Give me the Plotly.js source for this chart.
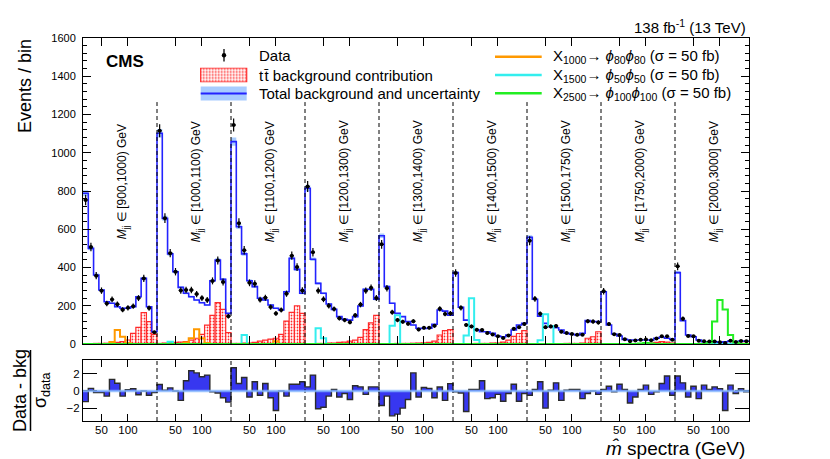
<!DOCTYPE html>
<html><head><meta charset="utf-8">
<script src="https://cdn.plot.ly/plotly-3.0.1.min.js"></script>
<style>html,body{margin:0;padding:0;background:#fff}#chart{width:830px;height:459px}</style>
</head><body><div id="chart"></div>
<script>
// ---------------- data ----------------
const mjjBins = ['[900,1000)', '[1000,1100)', '[1100,1200)', '[1200,1300)', '[1300,1400)',
                 '[1400,1500)', '[1500,1750)', '[1750,2000)', '[2000,3000]'];
const mLow = 15;            // GeV, low edge of each m-hat spectrum
const binWidth = 10;        // GeV
const mTickValues = [50, 100];
const mTickLabels = ['50', '100'];

const totalBkg = [
  [788, 500, 361, 282, 221, 213, 195, 187, 187, 195, 247, 343, 195, 64],
  [1102, 657, 471, 378, 296, 265, 247, 230, 216, 204, 331, 439, 338, 160],
  [1058, 613, 471, 331, 300, 239, 230, 204, 187, 178, 273, 448, 390, 265],
  [814, 443, 317, 265, 209, 181, 143, 129, 125, 143, 199, 286, 286, 234],
  [566, 300, 213, 160, 143, 117, 99, 82, 81, 82, 103, 178, 172, 150],
  [373, 192, 125, 91, 73, 64, 64, 56, 42, 38, 47, 73, 99, 108],
  [558, 234, 146, 108, 91, 85, 73, 56, 51, 47, 56, 122, 117, 117],
  [273, 99, 52, 42, 24, 21, 21, 21, 21, 21, 30, 35, 30, 24],
  [373, 122, 47, 38, 21, 12, 12, 12, 8, 12, 15, 12, 15, 15]
];
const bkgRelUnc = 0.02;
const dataCounts = [
  [753, 507, 357, 279, 212, 233, 208, 179, 189, 198, 240, 343, 188, 62],
  [1115, 658, 475, 378, 280, 283, 282, 261, 240, 230, 330, 436, 324, 145],
  [1145, 632, 490, 320, 315, 232, 242, 193, 160, 178, 263, 462, 402, 280],
  [823, 480, 279, 234, 200, 183, 135, 125, 114, 150, 206, 279, 294, 241],
  [521, 291, 166, 125, 116, 106, 119, 76, 85, 85, 95, 184, 157, 160],
  [371, 189, 100, 92, 74, 73, 57, 50, 40, 31, 45, 80, 88, 105],
  [540, 236, 158, 88, 92, 94, 64, 57, 52, 48, 49, 119, 117, 113],
  [276, 104, 51, 47, 25, 15, 18, 22, 24, 19, 29, 40, 40, 22],
  [406, 132, 42, 41, 17, 14, 13, 13, 9, 5, 17, 11, 16, 15]
];
const ttbarBkg = [
  [2, 2, 3, 3, 4, 5, 8, 12, 21, 56, 87, 164, 117, 50],
  [3, 5, 8, 8, 10, 12, 20, 30, 50, 99, 150, 216, 181, 60],
  [3, 3, 5, 5, 8, 15, 20, 25, 30, 50, 120, 165, 200, 160],
  [2, 2, 3, 3, 5, 5, 8, 10, 15, 20, 35, 75, 110, 150],
  [2, 2, 2, 3, 3, 3, 4, 5, 6, 8, 15, 47, 70, 75],
  [2, 2, 2, 2, 3, 3, 3, 5, 5, 10, 20, 40, 55, 70],
  [1, 1, 1, 1, 2, 2, 2, 3, 3, 3, 5, 30, 38, 64],
  [0, 0, 0, 0, 1, 1, 1, 2, 3, 5, 8, 12, 10, 5],
  [0, 0, 0, 0, 0, 0, 1, 1, 1, 1, 2, 3, 3, 3]
];
const sigX1000 = [
  [0, 0, 0, 0, 0, 10, 73, 38, 5, 0, 0, 0, 0, 0],
  [0, 0, 0, 0, 0, 8, 30, 77, 30, 5, 0, 0, 0, 0],
  [0, 0, 0, 0, 0, 0, 0, 0, 15, 0, 0, 0, 0, 0],
  [0, 0, 0, 0, 0, 0, 0, 0, 0, 0, 0, 0, 0, 0],
  [0, 0, 0, 0, 0, 0, 0, 0, 0, 0, 0, 0, 0, 0],
  [0, 0, 0, 0, 0, 0, 0, 0, 0, 0, 0, 0, 0, 0],
  [0, 0, 0, 0, 0, 0, 0, 0, 0, 0, 0, 0, 0, 0],
  [0, 0, 0, 0, 0, 0, 0, 0, 0, 0, 0, 0, 0, 0],
  [0, 0, 0, 0, 0, 0, 0, 0, 0, 0, 0, 0, 0, 0]
];
const sigX1500 = [
  [0, 0, 0, 0, 0, 0, 0, 0, 0, 0, 0, 0, 0, 0],
  [0, 0, 12, 0, 0, 0, 0, 0, 0, 0, 0, 0, 0, 0],
  [0, 0, 47, 0, 0, 0, 0, 0, 0, 0, 0, 0, 0, 0],
  [0, 0, 82, 30, 0, 0, 0, 0, 0, 0, 0, 0, 0, 0],
  [0, 0, 95, 150, 0, 0, 0, 0, 0, 0, 0, 0, 0, 0],
  [0, 0, 44, 239, 21, 0, 0, 0, 0, 0, 0, 0, 0, 0],
  [0, 0, 20, 155, 94, 0, 0, 0, 0, 0, 0, 0, 0, 0],
  [0, 0, 0, 0, 0, 0, 0, 0, 0, 0, 0, 0, 0, 0],
  [0, 0, 0, 0, 0, 0, 0, 0, 0, 0, 0, 0, 0, 0]
];
const sigX2500 = [
  [0, 0, 0, 0, 0, 0, 0, 0, 0, 0, 0, 0, 0, 0],
  [0, 0, 0, 0, 0, 0, 0, 0, 0, 0, 0, 0, 0, 0],
  [0, 0, 0, 0, 0, 0, 0, 0, 0, 0, 0, 0, 0, 0],
  [0, 0, 0, 0, 0, 0, 0, 0, 0, 0, 0, 0, 0, 0],
  [0, 0, 0, 0, 0, 0, 0, 0, 0, 0, 0, 0, 0, 0],
  [0, 0, 0, 0, 0, 0, 0, 0, 0, 0, 0, 0, 0, 0],
  [0, 0, 0, 0, 0, 0, 0, 0, 0, 0, 0, 0, 0, 0],
  [0, 0, 0, 0, 0, 0, 0, 3, 5, 3, 0, 0, 0, 0],
  [0, 0, 0, 0, 0, 0, 8, 117, 230, 181, 47, 8, 0, 0]
];
const pulls = [
  [-1.25, 0.3, -0.2, -0.2, -0.6, 1.35, 0.9, -0.6, 0.15, 0.25, -0.45, 0, -0.5, -0.2],
  [0.75, 0.08, 0.35, 0, -1.1, 1.18, 2.35, 2.1, 1.65, 1.84, -0.1, -0.24, -0.8, -1.3],
  [2.7, 0.86, 1.57, -0.7, 1.06, -0.5, 0.86, -0.8, -2.27, 0, -0.6, 0.78, 0.78, 1.06],
  [0.47, 1.84, -2.08, -1.9, -0.6, 0.16, -0.7, -0.3, -1.0, 0.6, 0.47, -0.4, 0.47, 0.47],
  [-1.7, -0.6, -2.9, -2.7, -2.0, -1.0, 2.1, -0.7, 0.4, 0.3, -0.8, 0.45, -1.1, 0.85],
  [-0.1, -0.24, -2.4, 0.16, 0.16, 1.18, -0.9, -0.8, -0.4, -1.2, -0.3, 0.78, -1.2, -0.3],
  [-0.5, 0.16, 1.06, -2.0, 0.08, 0.94, -1.1, 0.08, 0.16, 0.16, -0.9, -0.3, 0, -0.4],
  [0.16, 0.55, -0.1, 0.78, 0.16, -1.4, -0.7, 0.16, 0.67, -0.4, -0.1, 0.86, 1.73, -0.5],
  [1.73, 0.94, -0.7, 0.55, -0.9, 0.67, 0.16, 0.47, 0.27, -2.27, 0.67, -0.3, 0.27, -0.1]
];
const legendSwatch = [1];

// ---------------- derived geometry (unrolled m-hat axis) ----------------
const nSeg = mjjBins.length;
const nPerSeg = totalBkg[0].length;
const segSpan = nPerSeg * binWidth;
const nBins = nSeg * nPerSeg;
const edges = Array.from({length: nBins + 1}, (_, i) => i * binWidth);
const centers = Array.from({length: nBins}, (_, i) => i * binWidth + binWidth / 2);
const stepY = v => v.concat([v[v.length - 1]]);
const bkg = totalBkg.flat(), dat = dataCounts.flat(), tt = ttbarBkg.flat();
const s1 = sigX1000.flat(), s2 = sigX1500.flat(), s3 = sigX2500.flat(), pl = pulls.flat();
const tickVals = [], tickText = [];
for (let s = 0; s < nSeg; s++) mTickValues.forEach((m, k) => { tickVals.push(s * segSpan + m - mLow); tickText.push(mTickLabels[k]); });

const FONT = 'Liberation Sans, Arial, Helvetica, sans-serif';
const L = 83, R = 81, T = 38, B = 38, W = 830, H = 459;
const px = x => (x - L) / (W - L - R);
const py = y => (H - B - y) / (H - T - B);
const mainDom = [py(344), 1];
const ratioDom = [0, py(360)];

const BLUE = '#2323ff', BAND = 'rgba(110,170,255,0.6)';
const ORANGE = '#ff9900', CYAN = '#33eeee', GREEN = '#22ee22';
const TTPAT = {shape: '.', fgcolor: '#ff2a2a', bgcolor: 'white', size: 3, solidity: 0.28};

const traces = [
  {type: 'bar', x: centers, y: tt, width: binWidth, xaxis: 'x', yaxis: 'y', hoverinfo: 'skip',
   marker: {color: 'white', pattern: TTPAT, line: {color: '#ff2a2a', width: 1.2}}},
  {type: 'scatter', mode: 'lines', x: edges, y: stepY(bkg.map(v => v * (1 - bkgRelUnc))),
   line: {width: 0, shape: 'hv'}, hoverinfo: 'skip'},
  {type: 'scatter', mode: 'lines', x: edges, y: stepY(bkg.map(v => v * (1 + bkgRelUnc))),
   line: {width: 0, shape: 'hv'}, fill: 'tonexty', fillcolor: BAND, hoverinfo: 'skip'},
  {type: 'scatter', mode: 'lines', x: edges, y: stepY(bkg), line: {color: BLUE, width: 1.6, shape: 'hv'}},
  {type: 'scatter', mode: 'lines', x: edges, y: stepY(s1), line: {color: ORANGE, width: 2, shape: 'hv'}},
  {type: 'scatter', mode: 'lines', x: edges, y: stepY(s2), line: {color: CYAN, width: 2, shape: 'hv'}},
  {type: 'scatter', mode: 'lines', x: edges, y: stepY(s3), line: {color: GREEN, width: 2, shape: 'hv'}},
  {type: 'scatter', mode: 'markers', x: centers, y: dat, marker: {color: 'black', size: 4},
   error_y: {type: 'data', array: dat.map(v => Math.sqrt(v)), color: 'black', thickness: 1.2, width: 0},
   error_x: {type: 'constant', value: 4, color: 'black', thickness: 1.2, width: 0}},
  {type: 'scatter', mode: 'lines', x: edges, y: stepY(pl), xaxis: 'x2', yaxis: 'y2',
   fill: 'tozeroy', fillcolor: 'rgb(55,55,240)', line: {color: '#2b2b2b', width: 1.4, shape: 'hv'}},
  {type: 'bar', x: [0], y: legendSwatch, width: 1, xaxis: 'x3', yaxis: 'y3', hoverinfo: 'skip',
   marker: {color: 'white', pattern: TTPAT, line: {color: '#ff2a2a', width: 1.2}}}
];

const shapes = [];
for (let s = 1; s < nSeg; s++) {
  shapes.push({type: 'line', xref: 'x', yref: 'y', x0: s * segSpan, x1: s * segSpan, y0: 0, y1: 1265,
               line: {color: 'black', width: 1, dash: '4px,3px'}});
  shapes.push({type: 'line', xref: 'x2', yref: 'y2 domain', x0: s * segSpan, x1: s * segSpan, y0: 0, y1: 1,
               line: {color: 'black', width: 1, dash: '4px,3px'}});
}
shapes.push({type: 'line', xref: 'x2 domain', yref: 'y2', x0: 0, x1: 1, y0: 0, y1: 0, layer: 'above',
             line: {color: 'rgba(130,180,255,0.8)', width: 2.5}});
// fraction bar of the ratio title
shapes.push({type: 'line', xref: 'paper', yref: 'paper', x0: px(30.5), x1: px(30.5), y0: py(431), y1: py(350),
             line: {color: 'black', width: 1.5}});
// manual legend symbols
shapes.push({type: 'line', xref: 'paper', yref: 'paper', x0: px(224), x1: px(224), y0: py(61.5), y1: py(49),
             line: {color: 'black', width: 1.3}});
shapes.push({type: 'circle', xref: 'paper', yref: 'paper', x0: px(221.8), x1: px(226.2), y0: py(57.5), y1: py(53.1),
             fillcolor: 'black', line: {color: 'black', width: 0}});
shapes.push({type: 'rect', xref: 'paper', yref: 'paper', x0: px(200.7), x1: px(246.7), y0: py(100.5), y1: py(86.5),
             fillcolor: BAND, line: {width: 0}});
shapes.push({type: 'line', xref: 'paper', yref: 'paper', x0: px(200.7), x1: px(246.7), y0: py(93.5), y1: py(93.5),
             line: {color: BLUE, width: 2}});
[[ORANGE, 56.7], [CYAN, 75], [GREEN, 93.3]].forEach(([c, y]) =>
  shapes.push({type: 'line', xref: 'paper', yref: 'paper', x0: px(495), x1: px(541.7), y0: py(y), y1: py(y),
               line: {color: c, width: 2.5}}));

const ann = [];
mjjBins.forEach((b, s) => ann.push({xref: 'x', yref: 'y', x: s * segSpan + 77, y: 850, showarrow: false,
  textangle: -90, xanchor: 'center', yanchor: 'middle',
  text: '<i>M</i><sub>jj</sub> \u2208 ' + b + ' GeV', font: {family: FONT, size: 12, color: 'black'}}));
const P = (x, y, text, opt) => Object.assign({xref: 'paper', yref: 'paper', x: px(x), y: py(y), text, showarrow: false,
  xanchor: 'left', yanchor: 'middle', font: {family: FONT, size: 15, color: 'black'}}, opt || {});
ann.push(P(104, 61.5, '<b>CMS</b>', {font: {family: FONT, size: 17, color: 'black'}}));
ann.push(P(748, 26, '138 fb<sup>-1</sup> (13 TeV)', {xanchor: 'right', font: {family: FONT, size: 15, color: 'black'}}));
ann.push(P(25.5, 37.5, 'Events / bin', {xanchor: 'center', yanchor: 'top', textangle: -90, font: {family: FONT, size: 18, color: 'black'}}));
ann.push(P(747, 449, '<i>m\u0302</i> spectra (GeV)', {xanchor: 'right', font: {family: FONT, size: 19, color: 'black'}}));
ann.push(P(20, 391, 'Data - bkg', {xanchor: 'center', textangle: -90, font: {family: FONT, size: 18, color: 'black'}}));
ann.push(P(41, 390, '\u03c3<sub>data</sub>', {xanchor: 'center', textangle: -90, font: {family: FONT, size: 18, color: 'black'}}));
ann.push(P(257, 55, 'Data'));
ann.push(P(257, 75, 't\u200At\u0304 background contribution'));
ann.push(P(257, 93.5, 'Total background and uncertainty'));
ann.push(P(551, 56.7, 'X<sub>1000</sub>\u2192 <i>\u03d5</i><sub>80</sub><i>\u03d5</i><sub>80</sub> (\u03c3 = 50 fb)'));
ann.push(P(551, 75, 'X<sub>1500</sub>\u2192 <i>\u03d5</i><sub>50</sub><i>\u03d5</i><sub>50</sub> (\u03c3 = 50 fb)'));
ann.push(P(551, 93.3, 'X<sub>2500</sub>\u2192 <i>\u03d5</i><sub>100</sub><i>\u03d5</i><sub>100</sub> (\u03c3 = 50 fb)'));

const axBase = {showline: true, linecolor: 'black', linewidth: 1, mirror: 'ticks', ticks: 'inside', tickcolor: 'black',
  tickwidth: 1, showgrid: false, zeroline: false, tickfont: {family: FONT, size: 11.5, color: 'black'}};
const layout = {
  width: W, height: H, margin: {l: L, r: R, t: T, b: B}, showlegend: false,
  paper_bgcolor: 'white', plot_bgcolor: 'white', font: {family: FONT, color: 'black'},
  xaxis: Object.assign({}, axBase, {domain: [0, 1], anchor: 'y', range: [0, nBins * binWidth],
    tickmode: 'array', tickvals: tickVals, ticklen: 8, showticklabels: false}),
  yaxis: Object.assign({}, axBase, {domain: mainDom, anchor: 'x', range: [0, 1600], tick0: 0, dtick: 200,
    ticklen: 8, ticklabelstandoff: 4, tickfont: {family: FONT, size: 11, color: 'black'},
    minor: {dtick: 40, ticks: 'inside', ticklen: 4, tickcolor: 'black', showgrid: false}}),
  xaxis2: Object.assign({}, axBase, {domain: [0, 1], anchor: 'y2', matches: 'x', range: [0, nBins * binWidth],
    tickmode: 'array', tickvals: tickVals, ticktext: tickText, ticklen: 7, ticklabelstandoff: -2}),
  yaxis2: Object.assign({}, axBase, {domain: ratioDom, anchor: 'x2', range: [-3.5, 3.6],
    tickmode: 'array', tickvals: [-2, 0, 2], ticktext: ['\u22122', '0', '2'], ticklen: 14}),
  xaxis3: {domain: [px(199.3), px(248.1)], anchor: 'y3', range: [-0.53, 0.53], visible: false, fixedrange: true},
  yaxis3: {domain: [py(82.55), py(67.45)], anchor: 'x3', range: [-0.04, 1.04], visible: false, fixedrange: true},
  shapes: shapes, annotations: ann
};
Plotly.newPlot('chart', traces, layout, {displayModeBar: false, staticPlot: true});
</script></body></html>
